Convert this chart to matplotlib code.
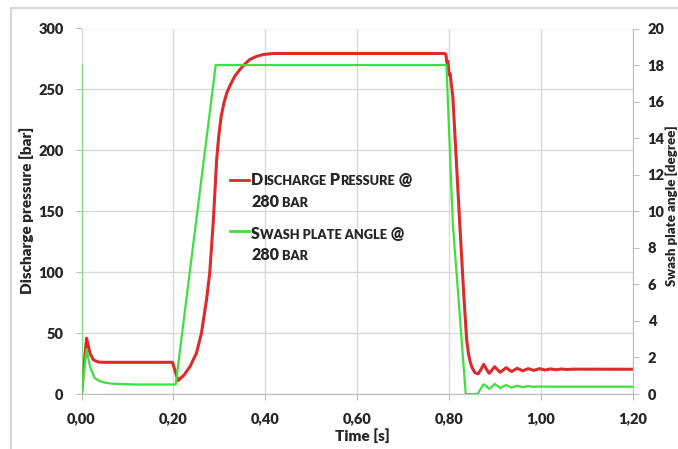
import matplotlib
matplotlib.use("Agg")
import matplotlib.pyplot as plt
from matplotlib.lines import Line2D

plt.rcParams['font.family'] = ['Lato', 'DejaVu Sans']

# Discharge pressure [bar] over time [s]
t_pressure = [0.000, 0.011, 0.0185, 0.026, 0.037, 0.050, 0.198, 0.210, 0.223, 0.236,
              0.250, 0.261, 0.272, 0.279, 0.287, 0.294, 0.299, 0.304, 0.310, 0.316,
              0.323, 0.333, 0.345, 0.356, 0.366, 0.380, 0.395, 0.417, 0.790, 0.793,
              0.795, 0.797, 0.800, 0.802, 0.808, 0.823, 0.832, 0.838, 0.842, 0.846,
              0.850, 0.856, 0.863, 0.869, 0.875, 0.881, 0.887, 0.893, 0.899, 0.905,
              0.911, 0.918, 0.924, 0.930, 0.936, 0.942, 0.948, 0.954, 0.960, 0.966,
              0.972, 0.978, 0.984, 0.990, 0.996, 1.002, 1.008, 1.014, 1.020, 1.026,
              1.032, 1.038, 1.044, 1.050, 1.056, 1.070, 1.200]
pressure_bar = [0.0, 45.8, 33.4, 28.0, 26.2, 26.0, 26.0, 11.0, 15.5, 22.5,
                33.4, 49.9, 77.3, 99.2, 143.0, 192.0, 213.0, 228.0, 239.0, 247.0,
                253.0, 260.5, 266.5, 271.0, 274.5, 277.0, 278.6, 279.5, 279.5, 278.5,
                272.0, 273.0, 262.0, 263.0, 244.0, 140.0, 80.0, 45.0, 33.0, 26.0,
                21.5, 17.5, 16.5, 20.0, 24.4, 20.5, 17.0, 19.5, 22.4, 20.0,
                17.8, 19.8, 21.6, 20.0, 18.4, 19.8, 21.1, 20.1, 19.0, 19.9,
                20.8, 20.2, 19.4, 20.0, 20.8, 20.3, 19.7, 20.1, 20.6, 20.3,
                19.9, 20.2, 20.5, 20.3, 20.1, 20.4, 20.3]

# Swash plate angle [degree] over time [s]
t_swash = [0.000, 0.000, 0.011, 0.0185, 0.029, 0.040, 0.051, 0.065, 0.080, 0.120,
           0.205, 0.292, 0.794, 0.808, 0.836, 0.862, 0.869, 0.875, 0.881, 0.887,
           0.893, 0.899, 0.905, 0.911, 0.918, 0.924, 0.930, 0.936, 0.942, 0.948,
           0.954, 0.960, 0.966, 0.972, 0.984, 0.996, 1.020, 1.200]
swash_deg = [18.0, 0.0, 2.45, 1.49, 0.86, 0.70, 0.62, 0.57, 0.55, 0.52,
             0.52, 18.0, 18.0, 9.3, 0.0, 0.0, 0.30, 0.53, 0.42, 0.28,
             0.40, 0.55, 0.45, 0.32, 0.42, 0.49, 0.42, 0.35, 0.40, 0.45,
             0.41, 0.37, 0.40, 0.43, 0.39, 0.41, 0.40, 0.40]

x_ticks = [0.0, 0.2, 0.4, 0.6, 0.8, 1.0, 1.2]
x_tick_labels = ["0,00", "0,20", "0,40", "0,60", "0,80", "1,00", "1,20"]
p_ticks = [0, 50, 100, 150, 200, 250, 300]
a_ticks = [0, 2, 4, 6, 8, 10, 12, 14, 16, 18, 20]

RED = "#dc2b2b"
GREEN = "#3ee03e"
GRID = "#d9d9d9"
AXIS = "#bfbfbf"
TXT = "#262626"
WEIGHT = 'heavy'

W, H = 678, 449
fig = plt.figure(figsize=(W / 100, H / 100), dpi=100)

x0, x1, y0, y1 = 81.5, 633.0, 394.0, 28.5
ax = fig.add_axes([x0 / W, (H - y0) / H, (x1 - x0) / W, (y0 - y1) / H])
ax2 = ax.twinx()

ax.plot(t_pressure, pressure_bar, color=RED, lw=2.2, zorder=3,
        solid_joinstyle='round')
ax2.plot(t_swash, swash_deg, color=GREEN, lw=1.6, zorder=3)

ax.set_xlim(0, 1.2)
ax.set_ylim(0, 300)
ax2.set_ylim(0, 20)
ax.set_xticks(x_ticks)
ax.set_xticklabels(x_tick_labels)
ax.set_yticks(p_ticks)
ax2.set_yticks(a_ticks)

ax.grid(True, color=GRID, lw=1.0, zorder=0)
ax.set_axisbelow(True)
for a in (ax, ax2):
    for s in a.spines.values():
        s.set_visible(False)
ax2.spines['right'].set_visible(True)
ax2.spines['right'].set_color(AXIS)
ax.spines['bottom'].set_visible(True)
ax.spines['bottom'].set_color(AXIS)

ax.tick_params(axis='both', length=4, color=AXIS, labelsize=10.5, labelcolor=TXT)
ax.tick_params(axis='y', pad=9)
ax.tick_params(axis='x', pad=9)
ax2.tick_params(axis='y', length=4, color=AXIS, labelsize=10.5, labelcolor=TXT, pad=6.5)
for lab in ax.get_xticklabels() + ax.get_yticklabels() + ax2.get_yticklabels():
    lab.set_fontweight(WEIGHT)

# axis titles
fig.text(27 / W, 1 - 210 / H, "Discharge pressure [bar]", rotation=90, ha='center',
         va='center', fontsize=11, fontweight=WEIGHT, color=TXT)
fig.text(362 / W, 1 - 436 / H, "Time [s]", ha='center', va='center',
         fontsize=11, fontweight=WEIGHT, color=TXT)
fig.text(677.5 / W, 1 - 206 / H, "Swash plate angle [degree]", rotation=90, ha='right',
         va='center', fontsize=9.5, fontweight=WEIGHT, color=TXT)

# small-caps legend entries
renderer = fig.canvas.get_renderer()
BIG, SMALL = 11.5, 9.2


def small_caps_line(x_px, base_px, pieces):
    x = x_px
    for txt, big in pieces:
        t = fig.text(x / W, 1 - base_px / H, txt, fontsize=BIG if big else SMALL,
                     fontweight=WEIGHT, color=TXT, ha='left', va='baseline')
        x += t.get_window_extent(renderer).width


legend_entries = [
    (RED, 180, [[("D", True), ("ISCHARGE", False), (" P", True), ("RESSURE", False), (" @", True)],
                [("280", True), (" BAR", False)]], [185, 206.5]),
    (GREEN, 231, [[("S", True), ("WASH PLATE ANGLE", False), (" @", True)],
                  [("280", True), (" BAR", False)]], [239.5, 260]),
]
for color, ly, lines, bases in legend_entries:
    fig.add_artist(Line2D([230 / W, 249 / W], [1 - ly / H, 1 - ly / H], color=color, lw=2.0))
    for pieces, b in zip(lines, bases):
        small_caps_line(251, b, pieces)

# chart frame
fig.add_artist(Line2D([11 / W, 1.0], [1 - 8 / H, 1 - 8 / H], color="#d6d6d6", lw=1.5))
fig.add_artist(Line2D([11 / W, 11 / W], [1 - 8 / H, 0.0], color="#d6d6d6", lw=1.5))

fig.savefig("out.png", dpi=100)
